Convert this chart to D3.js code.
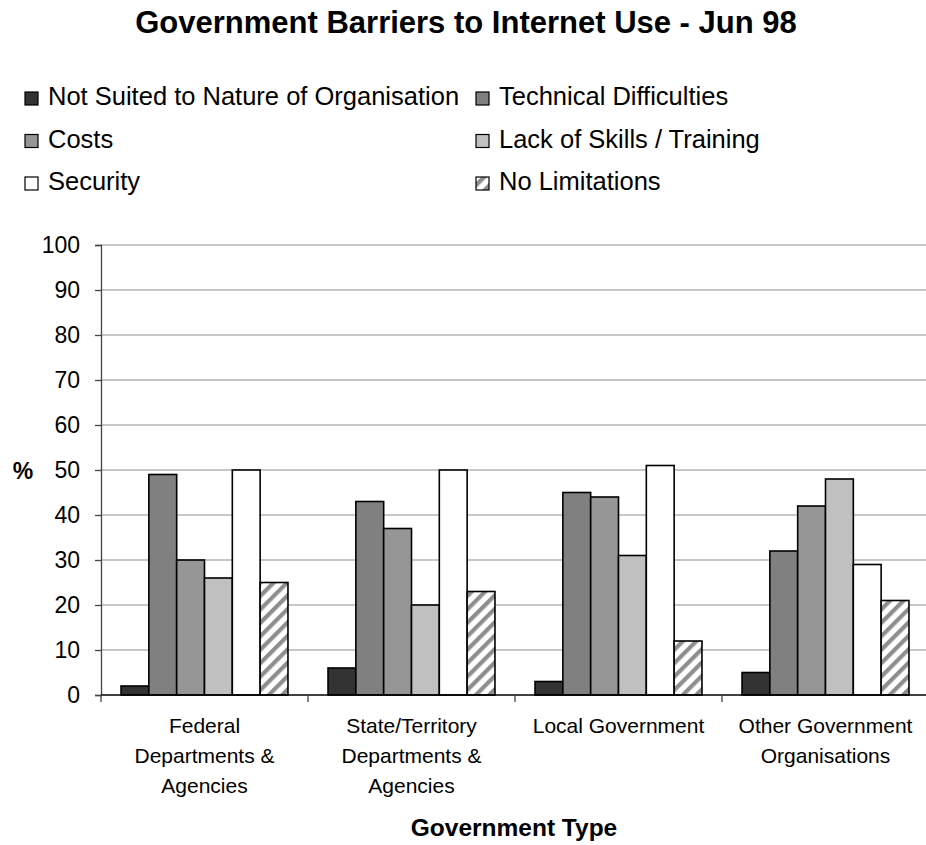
<!DOCTYPE html>
<html>
<head>
<meta charset="utf-8">
<script src="https://cdn.jsdelivr.net/npm/d3@7"></script>
<style>
  html, body { margin: 0; padding: 0; background: #fff; }
  svg { display: block; font-family: "Liberation Sans", Arial, sans-serif; }
</style>
</head>
<body>
<svg id="chart" width="926" height="845"></svg>
<script>
// Government barriers to Internet use, June 1998 (% of organisations)
const categories = [
  ["Federal", "Departments &", "Agencies"],
  ["State/Territory", "Departments &", "Agencies"],
  ["Local Government"],
  ["Other Government", "Organisations"]
];
const seriesNames = [
  "Not Suited to Nature of Organisation",
  "Technical Difficulties",
  "Costs",
  "Lack of Skills / Training",
  "Security",
  "No Limitations"
];
const notSuited = [2, 6, 3, 5];
const technical = [49, 43, 45, 32];
const costs = [30, 37, 44, 42];
const lackSkills = [26, 20, 31, 48];
const security = [50, 50, 51, 29];
const noLimitations = [25, 23, 12, 21];
const seriesValues = [notSuited, technical, costs, lackSkills, security, noLimitations];
const yTicks = [0, 10, 20, 30, 40, 50, 60, 70, 80, 90, 100];

const fills = ["#333333", "#808080", "#969696", "#c0c0c0", "#ffffff", "url(#hatch)"];

const svg = d3.select("#chart");
const W = 926, H = 845;
const x0 = 101, x1 = 929;
const yTop = 245, yBot = 695;

// hatch pattern for "No Limitations"
const defs = svg.append("defs");
const pat = defs.append("pattern")
  .attr("id", "hatch")
  .attr("patternUnits", "userSpaceOnUse")
  .attr("width", 9.5).attr("height", 9.5)
  .attr("patternTransform", "rotate(45)");
pat.append("rect").attr("width", 9.5).attr("height", 9.5).attr("fill", "#ffffff");
pat.append("rect").attr("x", 0).attr("width", 4.2).attr("height", 9.5).attr("fill", "#8e8e8e");

// title
svg.append("text")
  .attr("x", 466).attr("y", 33)
  .attr("text-anchor", "middle")
  .attr("font-weight", "bold")
  .attr("font-size", 31)
  .text("Government Barriers to Internet Use - Jun 98");

// legend: two columns, three rows
const legend = svg.append("g");
seriesNames.forEach((name, i) => {
  const col = i % 2, row = Math.floor(i / 2);
  const lx = col === 0 ? 25 : 476;
  const ly = 105 + row * 42.5;
  legend.append("rect")
    .attr("x", lx).attr("y", ly - 13)
    .attr("width", 13).attr("height", 13)
    .attr("fill", fills[i])
    .attr("stroke", "#000").attr("stroke-width", 1.2);
  legend.append("text")
    .attr("x", lx + 23).attr("y", ly)
    .attr("font-size", 25.5)
    .text(name);
});

// scales
const xScale = d3.scaleBand().domain(d3.range(categories.length)).range([x0, x1]).paddingInner(0).paddingOuter(0);
const xInner = d3.scaleBand().domain(d3.range(seriesNames.length))
  .range([0, xScale.bandwidth()]).paddingOuter(0.72).paddingInner(0);
const yScale = d3.scaleLinear().domain([0, 100]).range([yBot, yTop]);

// gridlines
svg.append("g")
  .selectAll("line")
  .data(yTicks.filter(d => d > 0))
  .join("line")
  .attr("x1", x0).attr("x2", x1)
  .attr("y1", d => yScale(d)).attr("y2", d => yScale(d))
  .attr("stroke", "#b4b4b4").attr("stroke-width", 1.3);

// bars
const groups = svg.append("g").selectAll("g")
  .data(categories)
  .join("g")
  .attr("transform", (d, i) => `translate(${xScale(i)},0)`);
groups.each(function(c, ci) {
  d3.select(this).selectAll("rect")
    .data(seriesValues.map((vals, si) => ({ si, v: vals[ci] })))
    .join("rect")
    .attr("x", d => xInner(d.si))
    .attr("width", xInner.bandwidth())
    .attr("y", d => yScale(d.v))
    .attr("height", d => yScale(0) - yScale(d.v))
    .attr("fill", d => fills[d.si])
    .attr("stroke", "#000")
    .attr("stroke-width", 1.6);
});

// y axis
const yAxis = svg.append("g")
  .attr("transform", `translate(${x0},0)`)
  .call(d3.axisLeft(yScale).tickValues(yTicks).tickSize(6).tickPadding(15).tickFormat(d3.format("d")));
yAxis.select(".domain").attr("stroke", "#444").attr("stroke-width", 1.3);
yAxis.selectAll(".tick line").attr("stroke", "#444").attr("stroke-width", 1.3);
yAxis.selectAll("text").attr("font-size", 23).attr("fill", "#000")
  .attr("font-family", "Liberation Sans, Arial, sans-serif");

// x axis
const xAxisG = svg.append("g").attr("transform", `translate(0,${yBot})`);
xAxisG.append("line").attr("x1", x0).attr("x2", x1).attr("y1", 0).attr("y2", 0)
  .attr("stroke", "#000").attr("stroke-width", 1.5);
xAxisG.selectAll("line.tk")
  .data(d3.range(categories.length + 1))
  .join("line").attr("class", "tk")
  .attr("x1", i => x0 + i * xScale.bandwidth()).attr("x2", i => x0 + i * xScale.bandwidth())
  .attr("y1", 0).attr("y2", 7)
  .attr("stroke", "#444").attr("stroke-width", 1.3);

// category labels
categories.forEach((lines, i) => {
  const t = svg.append("text")
    .attr("text-anchor", "middle")
    .attr("font-size", 21);
  lines.forEach((ln, k) => {
    t.append("tspan")
      .attr("x", xScale(i) + xScale.bandwidth() / 2)
      .attr("y", 733 + k * 29.8)
      .text(ln);
  });
});

// axis titles
svg.append("text")
  .attr("x", 514).attr("y", 836)
  .attr("text-anchor", "middle")
  .attr("font-weight", "bold").attr("font-size", 24.5)
  .text("Government Type");
svg.append("text")
  .attr("x", 23).attr("y", 479)
  .attr("text-anchor", "middle")
  .attr("font-weight", "bold").attr("font-size", 23)
  .text("%");
</script>
</body>
</html>
